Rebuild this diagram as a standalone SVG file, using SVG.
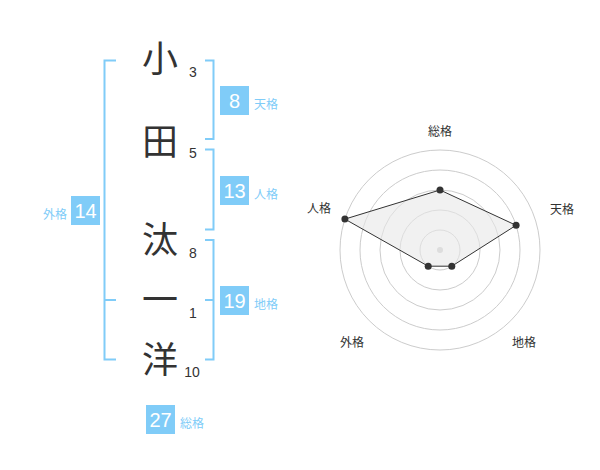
<svg xmlns="http://www.w3.org/2000/svg" width="600" height="470" viewBox="0 0 600 470">
<style>
.bg{fill:#ffffff}
.br{fill:none;stroke:#80ccf8;stroke-width:2}
.kj{font-family:"Noto Sans CJK JP","Noto Sans",sans-serif;font-size:36px;fill:#333333;text-anchor:middle}
.num{font-family:"Liberation Sans",Arial,sans-serif;font-size:14px;fill:#333333;text-anchor:middle}
.box{fill:#80ccf8}
.bt{font-family:"Liberation Sans",Arial,sans-serif;font-size:20px;fill:#ffffff;text-anchor:middle}
.lb{font-family:"Noto Sans CJK JP","Noto Sans",sans-serif;font-size:12px;fill:#80ccf8}
.ring{fill:none;stroke:#cccccc;stroke-width:1}
.rl{font-family:"Noto Sans CJK JP","Noto Sans",sans-serif;font-size:12px;fill:#333333;text-anchor:middle}
.pt{fill:#333333}
</style>
<rect class="bg" x="0" y="0" width="600" height="470"/>
<g id="connectors">
<path class="br" d="M116,60.5 H104.5 V359.5 H116 M104.5,300 H116"/>
<path class="br" d="M205,60.5 H213.5 V139 H205"/>
<path class="br" d="M205,149.5 H213.5 V229.5 H205"/>
<path class="br" d="M205,240 H213.5 V359.5 H205 M205,300 H213.5"/>
</g>
<g id="name">
<g id="c1"><text class="kj" x="160" y="72">小</text><text class="num" x="193" y="77">3</text></g>
<g id="c2"><text class="kj" x="160" y="155">田</text><text class="num" x="193" y="157.5">5</text></g>
<g id="c3"><text class="kj" x="160" y="253">汰</text><text class="num" x="193" y="257.5">8</text></g>
<g id="c4"><text class="kj" x="160" y="313">一</text><text class="num" x="193" y="318">1</text></g>
<g id="c5"><text class="kj" x="160" y="373">洋</text><text class="num" x="192" y="377">10</text></g>
</g>
<g id="tenkaku"><rect class="box" x="220" y="86" width="29" height="29"/><text class="bt" x="234.5" y="108">8</text><text class="lb" x="254" y="109">天格</text></g>
<g id="jinkaku"><rect class="box" x="220" y="176" width="29" height="29"/><text class="bt" x="234.5" y="198">13</text><text class="lb" x="254" y="199">人格</text></g>
<g id="chikaku"><rect class="box" x="220" y="286" width="29" height="29"/><text class="bt" x="234.5" y="308">19</text><text class="lb" x="254" y="309">地格</text></g>
<g id="gaikaku"><rect class="box" x="71" y="196" width="29" height="29"/><text class="bt" x="85.5" y="218">14</text><text class="lb" x="67" y="219" text-anchor="end">外格</text></g>
<g id="soukaku"><rect class="box" x="146" y="405" width="29" height="29"/><text class="bt" x="160.5" y="427">27</text><text class="lb" x="180" y="428">総格</text></g>
<g id="radar">
<circle class="ring" cx="440" cy="250" r="20"/>
<circle class="ring" cx="440" cy="250" r="40"/>
<circle class="ring" cx="440" cy="250" r="60"/>
<circle class="ring" cx="440" cy="250" r="80"/>
<circle class="ring" cx="440" cy="250" r="100"/>
<circle cx="440" cy="250" r="3" fill="#cccccc"/>
<polygon points="440,190 516.1,225.3 451.8,266.2 428.2,266.2 344.9,219.1" fill="#e8e8e8" fill-opacity="0.6" stroke="#333333" stroke-width="1"/>
<circle class="pt" cx="440" cy="190" r="3.5"/>
<circle class="pt" cx="516.1" cy="225.3" r="3.5"/>
<circle class="pt" cx="451.8" cy="266.2" r="3.5"/>
<circle class="pt" cx="428.2" cy="266.2" r="3.5"/>
<circle class="pt" cx="344.9" cy="219.1" r="3.5"/>
<text class="rl" x="440" y="136">総格</text>
<text class="rl" x="562" y="214">天格</text>
<text class="rl" x="524" y="347">地格</text>
<text class="rl" x="352" y="347">外格</text>
<text class="rl" x="319" y="213">人格</text>
</g>
</svg>
